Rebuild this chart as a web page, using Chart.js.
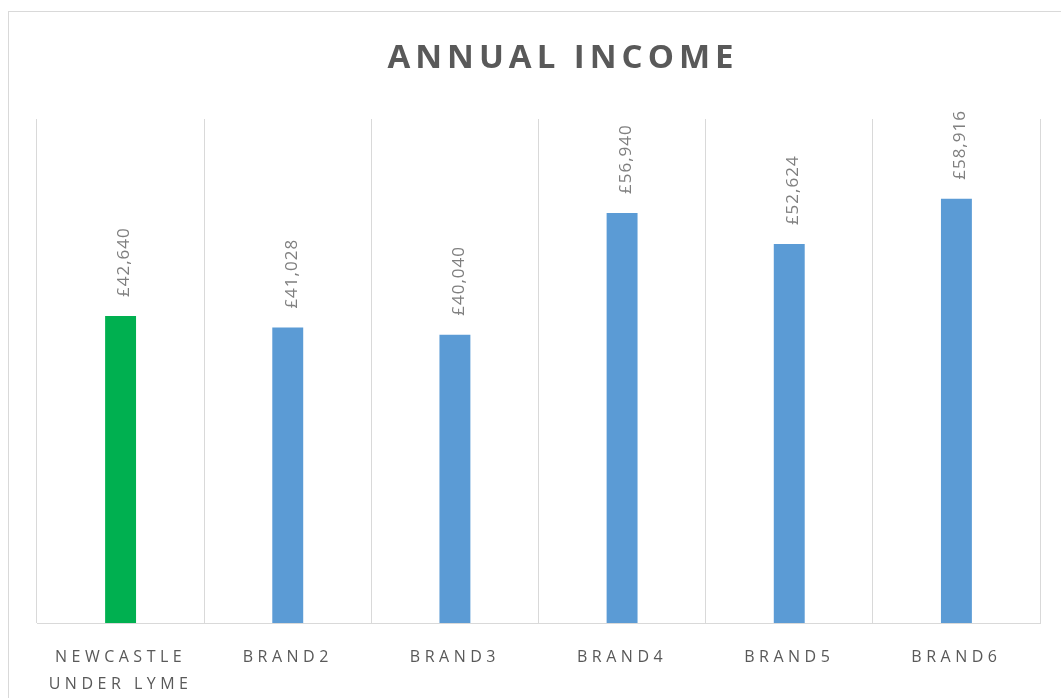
<!DOCTYPE html>
<html>
<head>
<meta charset="utf-8">
<title>Annual Income</title>
<script src="https://cdn.jsdelivr.net/npm/chart.js@4/dist/chart.umd.min.js"></script>
<style>
  html, body { margin: 0; padding: 0; overflow: hidden; background: #ffffff; }
  #wrap { width: 1126px; height: 698px; }
</style>
</head>
<body>
<div id="wrap"><canvas id="chart" width="1126" height="698"></canvas></div>
<script>
// Categories and annual income values (GBP)
const categories = [["NEWCASTLE", "UNDER LYME"], "BRAND2", "BRAND3", "BRAND4", "BRAND5", "BRAND6"];
const incomeValues = [42640, 41028, 40040, 56940, 52624, 58916];
const yAxisRange = [0, 70000];

const HIGHLIGHT = '#00B050';
const BAR_BLUE = '#5B9BD5';
const GRID = '#D9D9D9';
const TEXT = '#595959';
const LABEL = '#7F7F7F';

function formatPounds(v) {
  return '£' + v.toLocaleString('en-GB');
}

// Frame around the whole chart object
const framePlugin = {
  id: 'frame',
  beforeDraw(chart) {
    const ctx = chart.ctx;
    ctx.save();
    ctx.fillStyle = '#ffffff';
    ctx.fillRect(0, 0, chart.width, chart.height);
    ctx.strokeStyle = GRID;
    ctx.lineWidth = 1;
    ctx.strokeRect(8.5, 11.5, 1110, 720);
    ctx.restore();
    // spacing for the title, which is drawn first
    ctx.letterSpacing = '5px';
  },
  afterDraw(chart) {
    chart.ctx.letterSpacing = '0px';
  }
};

// Rotated value labels above each bar, then spacing for the category labels
const valueLabelPlugin = {
  id: 'valueLabels',
  afterDatasetsDraw(chart) {
    const ctx = chart.ctx;
    const meta = chart.getDatasetMeta(0);
    const values = chart.data.datasets[0].data;
    ctx.save();
    ctx.letterSpacing = '1px';
    ctx.font = '17px "Open Sans"';
    ctx.fillStyle = LABEL;
    ctx.textAlign = 'left';
    ctx.textBaseline = 'middle';
    meta.data.forEach((bar, i) => {
      ctx.save();
      ctx.translate(bar.x + 4, bar.y - 19);
      ctx.rotate(-Math.PI / 2);
      ctx.fillText(formatPounds(values[i]), 0, 0);
      ctx.restore();
    });
    ctx.restore();
    ctx.letterSpacing = '4.5px';
  }
};

// Invisible side axes reserve the margins of the plot area
const hiddenSide = (width, position) => ({
  position,
  display: true,
  min: yAxisRange[0],
  max: yAxisRange[1],
  grid: { display: false, drawTicks: false },
  border: { display: false },
  ticks: { display: false },
  afterFit(scale) { scale.width = width; }
});

new Chart(document.getElementById('chart'), {
  type: 'bar',
  data: {
    labels: categories,
    datasets: [{
      data: incomeValues,
      yAxisID: 'y',
      backgroundColor: (c) => c.dataIndex === 0 ? HIGHLIGHT : BAR_BLUE,
      borderWidth: 0,
      categoryPercentage: 1,
      barPercentage: 0.185
    }]
  },
  options: {
    responsive: false,
    animation: false,
    devicePixelRatio: 1,
    layout: { padding: 0 },
    plugins: {
      legend: { display: false },
      tooltip: { enabled: false },
      title: {
        display: true,
        text: 'ANNUAL INCOME',
        color: TEXT,
        font: { family: '"Open Sans"', size: 33, weight: 'bold', lineHeight: 1.2 },
        padding: { top: 39, bottom: 40.4 }
      }
    },
    scales: {
      x: {
        offset: true,
        grid: { display: true, color: GRID, lineWidth: 1, drawTicks: false, offset: true },
        border: { display: true, color: GRID, width: 1 },
        ticks: {
          z: 1,
          color: TEXT,
          autoSkip: false,
          maxRotation: 0,
          minRotation: 0,
          padding: 21,
          font: { family: '"Open Sans"', size: 16, lineHeight: 1.6875 }
        },
        afterFit(scale) { scale.height = 75; }
      },
      y: hiddenSide(37, 'left'),
      yRight: hiddenSide(86, 'right')
    }
  },
  plugins: [framePlugin, valueLabelPlugin]
});
</script>
</body>
</html>
